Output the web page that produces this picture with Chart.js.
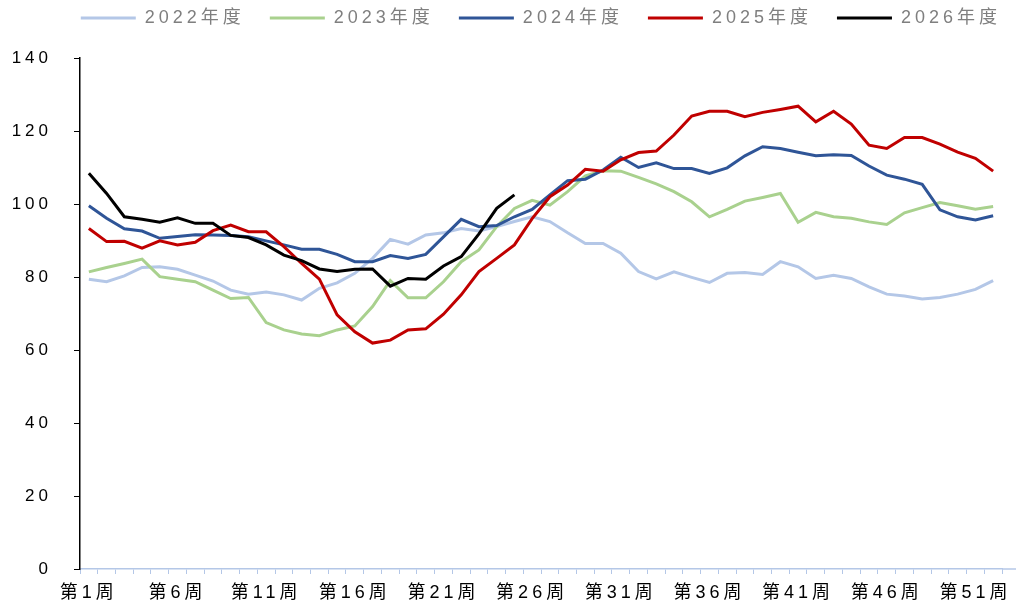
<!DOCTYPE html>
<html lang="zh-CN">
<head>
<meta charset="utf-8">
<title>周度走势</title>
<script src="https://cdn.jsdelivr.net/npm/chart.js@4"></script>
<style>
    html, body { margin: 0; padding: 0; background: #fff; overflow: hidden; }
    #box { width: 1018px; height: 603px; }
</style>
</head>
<body>
<div id="box"><canvas id="chart-0"></canvas></div>
<script>
var weeks = ['第1周','第2周','第3周','第4周','第5周','第6周','第7周','第8周','第9周','第10周',
    '第11周','第12周','第13周','第14周','第15周','第16周','第17周','第18周','第19周','第20周',
    '第21周','第22周','第23周','第24周','第25周','第26周','第27周','第28周','第29周','第30周',
    '第31周','第32周','第33周','第34周','第35周','第36周','第37周','第38周','第39周','第40周',
    '第41周','第42周','第43周','第44周','第45周','第46周','第47周','第48周','第49周','第50周',
    '第51周','第52周'];

var names = ['2022年度','2023年度','2024年度','2025年度','2026年度'];

var s2022 = [79.4,78.7,80.3,82.6,82.8,82.1,80.5,78.9,76.4,75.3,75.9,75.1,73.7,76.9,78.4,81.0,85.1,90.3,89.0,91.5,
    92.1,93.3,92.6,93.8,95.2,96.5,95.2,92.1,89.2,89.2,86.5,81.5,79.5,81.4,79.9,78.5,81.0,81.2,80.7,84.2,
    82.8,79.6,80.5,79.6,77.3,75.3,74.8,74.0,74.4,75.3,76.6,79.0];
var s2023 = [81.4,82.6,83.7,84.9,80.1,79.4,78.7,76.4,74.1,74.4,67.5,65.5,64.4,63.9,65.5,66.6,71.9,79.0,74.3,74.3,
    78.7,84.2,87.4,93.8,98.8,101.0,99.7,103.4,107.7,109.1,109.0,107.3,105.5,103.4,100.6,96.5,98.5,100.8,101.8,102.9,
    95.0,97.7,96.5,96.1,95.1,94.4,97.6,99.0,100.4,99.5,98.6,99.3];
var s2024 = [99.5,96.1,93.2,92.6,90.6,91.1,91.6,91.5,91.4,91.0,89.9,88.8,87.6,87.6,86.2,84.2,84.2,85.9,85.1,86.2,
    91.0,95.8,93.8,94.1,96.5,98.5,102.5,106.4,106.8,109.3,112.8,110.0,111.3,109.7,109.7,108.4,109.9,113.2,115.7,115.2,
    114.2,113.2,113.5,113.3,110.4,107.9,106.8,105.4,98.4,96.5,95.6,96.8];
var s2025 = [93.3,89.7,89.8,87.9,89.9,88.8,89.5,92.7,94.2,92.4,92.4,88.3,83.7,79.4,69.6,65.0,61.9,62.7,65.5,65.8,
    69.8,75.1,81.5,85.1,88.8,96.0,102.0,105.2,109.5,109.0,112.1,114.1,114.5,118.9,124.1,125.4,125.4,123.9,125.1,125.9,
    126.8,122.5,125.4,121.9,116.1,115.2,118.2,118.2,116.4,114.2,112.5,109.0];
var s2026 = [108.4,102.9,96.5,95.8,95.0,96.2,94.7,94.7,91.4,90.8,88.8,86.0,84.5,82.2,81.5,82.1,82.2,77.5,79.6,79.4,
    83.0,85.6,91.8,98.8,102.5];

var colors = ['#b4c7e7','#a9d18e','#2f5597','#c00000','#000000'];
var series = [s2022, s2023, s2024, s2025, s2026];

var fontFamily = '"Liberation Sans", "Noto Sans CJK SC", sans-serif';

var datasets = [];
for (var i = 0; i < series.length; i++) {
    datasets.push({
        label: names[i],
        data: series[i],
        borderColor: colors[i],
        backgroundColor: colors[i],
        borderWidth: 3,
        pointRadius: 0,
        tension: 0,
        order: series.length - i   // later years drawn on top
    });
}

// the original text is spread out quite a bit
var spacing = {
    id: 'spacing',
    afterInit: function(chart) {
        // leave a gap between legend and plot like the original
        var fit = chart.legend.fit;
        chart.legend.fit = function() {
            fit.apply(this, arguments);
            this.height += 21;
        };
    },
    afterLayout: function(chart) {
        // legend sits a bit further right than the layout puts it
        chart.legend.left += 24;
        chart.legend.right += 24;
    },
    beforeUpdate: function(chart) { chart.ctx.letterSpacing = '4px'; },
    beforeDraw: function(chart) { chart.ctx.letterSpacing = '4px'; },
    afterDraw: function(chart) {
        // x axis line runs on a little past the last week
        var ctx = chart.ctx, a = chart.chartArea;
        ctx.save();
        ctx.strokeStyle = '#b4c7e7';
        ctx.lineWidth = 1.5;
        ctx.beginPath();
        ctx.moveTo(a.right, a.bottom);
        ctx.lineTo(a.right + 14, a.bottom);
        ctx.stroke();
        ctx.restore();
    }
};

var chart = new Chart('chart-0', {
    type: 'line',
    data: { labels: weeks, datasets: datasets },
    plugins: [spacing],
    options: {
        responsive: true,
        maintainAspectRatio: false,
        animation: false,
        layout: { padding: { top: -16, right: 16, left: 0, bottom: 0 } },
        plugins: {
            tooltip: { enabled: false },
            legend: {
                position: 'top',
                align: 'end',
                labels: {
                    boxWidth: 55,
                    boxHeight: 3,
                    padding: 25,
                    color: '#7f7f7f',
                    font: { size: 18, family: fontFamily },
                    sort: function(a, b) { return a.datasetIndex - b.datasetIndex; },
                    generateLabels: function(c) {
                        var items = Chart.defaults.plugins.legend.labels.generateLabels(c);
                        items.forEach(function(it) { it.lineWidth = 0; });
                        return items;
                    }
                }
            }
        },
        scales: {
            x: {
                offset: true,
                afterFit: function(scale) { scale.height = 34; },
                grid: { offset: true, drawOnChartArea: false, tickLength: 5, color: '#b4c7e7' },
                border: { color: '#b4c7e7', width: 1.5 },
                ticks: {
                    autoSkip: false,
                    maxRotation: 0,
                    color: '#000',
                    padding: 8,
                    font: { size: 18, family: fontFamily },
                    callback: function(v, idx) { return idx % 5 === 0 ? this.getLabelForValue(v) : ''; }
                }
            },
            y: {
                min: 0,
                max: 140,
                afterFit: function(scale) { scale.width = 80; },
                grid: { drawOnChartArea: false, tickLength: 6, color: '#000' },
                border: { color: '#000', width: 1.5 },
                ticks: {
                    stepSize: 20,
                    color: '#000',
                    padding: 22,
                    font: { size: 17, family: fontFamily }
                }
            }
        }
    }
});
</script>
</body>
</html>
